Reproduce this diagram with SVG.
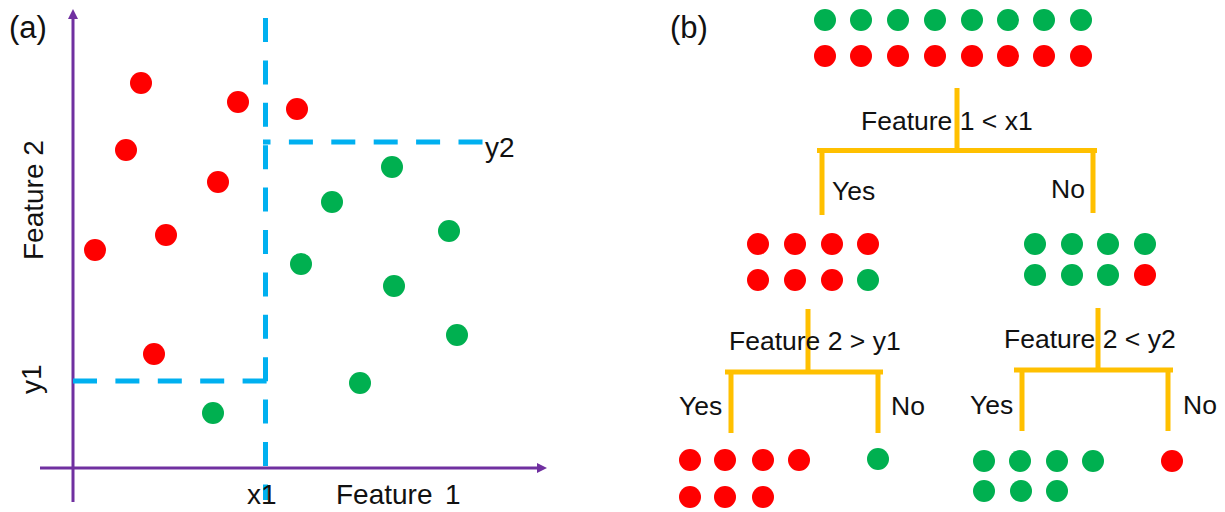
<svg xmlns="http://www.w3.org/2000/svg" width="1225" height="512" viewBox="0 0 1225 512">
  <defs>
    <style>
      text { font-family: "Liberation Sans", Arial, sans-serif; fill: #111; }
      .lbl { font-size: 26.5px; }
      .ax { font-size: 28px; }
      .tag { font-size: 31px; }
      .r { fill: #FF0000; }
      .g { fill: #00B050; }
      .axis { stroke: #7030A0; stroke-width: 3; fill: none; }
      .split { stroke: #00B0F0; stroke-width: 5; fill: none; stroke-dasharray: 24 18.4; }
      .branch { stroke: #FFC000; stroke-width: 5; fill: none; }
    </style>
    <marker id="axhead" viewBox="0 0 10 10" refX="0" refY="5" markerWidth="10" markerHeight="10" markerUnits="userSpaceOnUse" orient="auto">
      <path d="M0,0 L10,5 L0,10 Z" fill="#7030A0"/>
    </marker>
  </defs>

  <!-- (a) feature space -->
  <g id="panel-a">
    <text class="tag" x="9" y="38">(a)</text>

    <g id="axes">
      <line class="axis" x1="73" y1="502" x2="73" y2="19" marker-end="url(#axhead)"/>
      <line class="axis" x1="40" y1="468" x2="537" y2="468" marker-end="url(#axhead)"/>
    </g>

    <g id="splits">
      <line class="split" x1="265.5" y1="18" x2="265.5" y2="500"/>
      <line class="split" x1="263" y1="142" x2="483" y2="142" stroke-dashoffset="16.5"/>
      <line class="split" x1="73" y1="381" x2="268" y2="381"/>
    </g>

    <g id="points">
      <circle class="r" cx="141" cy="83" r="11"/>
      <circle class="r" cx="238" cy="102" r="11"/>
      <circle class="r" cx="297" cy="109" r="11"/>
      <circle class="r" cx="126" cy="150" r="11"/>
      <circle class="r" cx="218" cy="182" r="11"/>
      <circle class="r" cx="166" cy="235" r="11"/>
      <circle class="r" cx="95" cy="250" r="11"/>
      <circle class="r" cx="154" cy="354" r="11"/>
      <circle class="g" cx="392" cy="167" r="11"/>
      <circle class="g" cx="332" cy="202" r="11"/>
      <circle class="g" cx="449" cy="231" r="11"/>
      <circle class="g" cx="301" cy="264" r="11"/>
      <circle class="g" cx="394" cy="286" r="11"/>
      <circle class="g" cx="457" cy="335" r="11"/>
      <circle class="g" cx="360" cy="383" r="11"/>
      <circle class="g" cx="213" cy="413" r="11"/>
    </g>

    <g id="axis-labels">
      <text class="ax" transform="translate(43,260) rotate(-90)">Feature 2</text>
      <text class="ax" transform="translate(41,394) rotate(-90)">y1</text>
      <text class="ax" x="485" y="157">y2</text>
      <text class="ax" x="247" y="504">x1</text>
      <text class="ax" x="336" y="504">Feature<tspan x="445">1</tspan></text>
    </g>
  </g>

  <!-- (b) decision tree -->
  <g id="panel-b">
    <text class="tag" x="670" y="38">(b)</text>

    <g id="connectors">
      <path class="branch" d="M957,88 V150 M817,150.5 H1097 M822,150 V215 M1093,150 V213"/>
      <path class="branch" d="M808,309 V372 M725,372 H883 M731,372 V433 M878,372 V433"/>
      <path class="branch" d="M1098,308 V370 M1014,370 H1173 M1022,370 V431 M1168,370 V431"/>
    </g>

    <g id="root">
      <circle class="g" cx="825" cy="20" r="11"/>
      <circle class="g" cx="861" cy="20" r="11"/>
      <circle class="g" cx="898" cy="20" r="11"/>
      <circle class="g" cx="935" cy="20" r="11"/>
      <circle class="g" cx="972" cy="20" r="11"/>
      <circle class="g" cx="1008" cy="20" r="11"/>
      <circle class="g" cx="1044" cy="20" r="11"/>
      <circle class="g" cx="1081" cy="20" r="11"/>
      <circle class="r" cx="825" cy="56" r="11"/>
      <circle class="r" cx="861" cy="56" r="11"/>
      <circle class="r" cx="898" cy="56" r="11"/>
      <circle class="r" cx="935" cy="56" r="11"/>
      <circle class="r" cx="972" cy="56" r="11"/>
      <circle class="r" cx="1008" cy="56" r="11"/>
      <circle class="r" cx="1044" cy="56" r="11"/>
      <circle class="r" cx="1081" cy="56" r="11"/>
      <text class="lbl" x="861" y="130">Feature 1 &lt; x1</text>
      <text class="lbl" x="832" y="200">Yes</text>
      <text class="lbl" x="1051" y="198">No</text>
    </g>

    <g id="node-left">
      <circle class="r" cx="758" cy="244" r="11"/>
      <circle class="r" cx="795" cy="244" r="11"/>
      <circle class="r" cx="832" cy="244" r="11"/>
      <circle class="r" cx="868" cy="244" r="11"/>
      <circle class="r" cx="758" cy="280" r="11"/>
      <circle class="r" cx="795" cy="280" r="11"/>
      <circle class="r" cx="832" cy="280" r="11"/>
      <circle class="g" cx="868" cy="280" r="11"/>
      <text class="lbl" x="729" y="350">Feature 2 &gt; y1</text>
      <text class="lbl" x="679" y="415">Yes</text>
      <text class="lbl" x="891" y="415">No</text>
    </g>

    <g id="node-right">
      <circle class="g" cx="1035" cy="244" r="11"/>
      <circle class="g" cx="1072" cy="244" r="11"/>
      <circle class="g" cx="1108" cy="244" r="11"/>
      <circle class="g" cx="1145" cy="244" r="11"/>
      <circle class="g" cx="1035" cy="275" r="11"/>
      <circle class="g" cx="1072" cy="275" r="11"/>
      <circle class="g" cx="1108" cy="275" r="11"/>
      <circle class="r" cx="1145" cy="275" r="11"/>
      <text class="lbl" x="1004" y="348">Feature 2 &lt; y2</text>
      <text class="lbl" x="970" y="414">Yes</text>
      <text class="lbl" x="1183" y="414">No</text>
    </g>

    <g id="leaf-left-yes">
      <circle class="r" cx="690" cy="460" r="11"/>
      <circle class="r" cx="725" cy="460" r="11"/>
      <circle class="r" cx="763" cy="460" r="11"/>
      <circle class="r" cx="799" cy="460" r="11"/>
      <circle class="r" cx="690" cy="497" r="11"/>
      <circle class="r" cx="725" cy="497" r="11"/>
      <circle class="r" cx="763" cy="497" r="11"/>
    </g>

    <g id="leaf-left-no">
      <circle class="g" cx="878" cy="459" r="11"/>
    </g>

    <g id="leaf-right-yes">
      <circle class="g" cx="984" cy="461" r="11"/>
      <circle class="g" cx="1020" cy="461" r="11"/>
      <circle class="g" cx="1057" cy="461" r="11"/>
      <circle class="g" cx="1093" cy="461" r="11"/>
      <circle class="g" cx="984" cy="491" r="11"/>
      <circle class="g" cx="1021" cy="491" r="11"/>
      <circle class="g" cx="1057" cy="491" r="11"/>
    </g>

    <g id="leaf-right-no">
      <circle class="r" cx="1172" cy="461" r="11"/>
    </g>
  </g>
</svg>
